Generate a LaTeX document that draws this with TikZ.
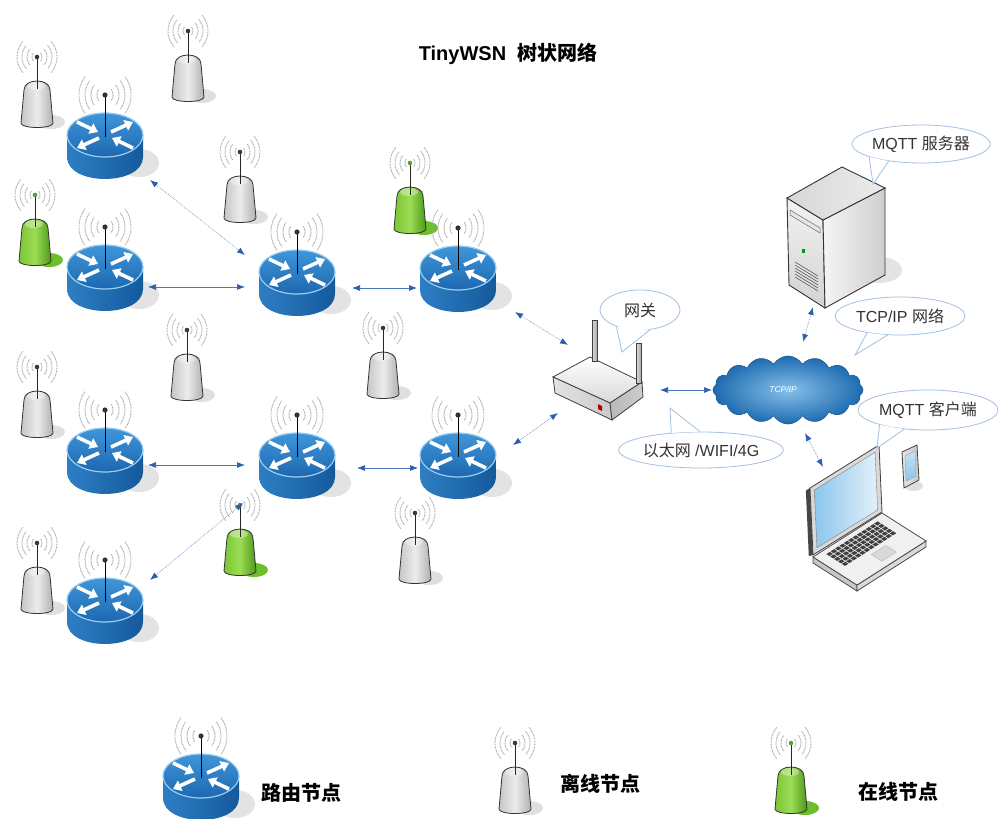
\documentclass[tikz,border=0pt]{standalone}
\usepackage{fontspec}
\setmainfont{Liberation Sans}
\newfontfamily\cjk{Noto Sans CJK SC}
\usetikzlibrary{arrows.meta,shapes.geometric,shapes.symbols}

\definecolor{rtop}{HTML}{4096DA}
\definecolor{rtopdark}{HTML}{1C68B0}
\definecolor{rside}{HTML}{2E7EC4}
\definecolor{rsidedark}{HTML}{145A9C}
\definecolor{rrim}{HTML}{9ACDF0}
\definecolor{linkblue}{HTML}{7099D0}
\definecolor{tipblue}{HTML}{2B5FAE}
\definecolor{bubble}{HTML}{A3C0E2}
\definecolor{grnlight}{HTML}{9CDC55}
\definecolor{grnmid}{HTML}{7CC634}
\definecolor{grndark}{HTML}{4C9816}
\definecolor{grnshadow}{HTML}{6DBE2A}
\definecolor{cloudin}{HTML}{86C0EA}
\definecolor{cloudout}{HTML}{1E6BB0}
\definecolor{screenblue}{HTML}{8CC6EC}

% body of a sensor node: shading left/middle/right, outline, shadow, antenna dot
\newcommand\nodebody[6]{%
  \fill[#5] (14,65) ellipse[x radius=14, y radius=7];
  \shade[left color=#1, right color=#3, middle color=#2, draw=#4, line width=0.8pt]
    (-16,66) -- (-13,33) .. controls (-13,21) and (13,21) .. (13,33)
    -- (16,66) .. controls (16,72) and (-16,72) .. cycle;
  \fill[white, opacity=0.35] (-1,29) ellipse[x radius=9, y radius=4];
  \draw[black!85, line width=0.6pt] (0,0) -- (0,32);
  \fill[#6] (0,0) circle[radius=2.3];
  \foreach \rr in {5,10,15,20} {
    \draw[wave] plot[domain=135:225, samples=9, smooth] ({\rr*cos(\x)}, {1.1*\rr*sin(\x)});
    \draw[wave] plot[domain=-45:45, samples=9, smooth] ({\rr*cos(\x)}, {1.1*\rr*sin(\x)});
  }%
}

\tikzset{
  wave/.style={draw=gray!65, line width=0.9pt, dash pattern=on 0.9pt off 0.6pt},
  rarrow/.style={white, line width=3.6pt, -{Triangle[length=8pt,width=11pt]}},
  router/.pic={
    \fill[gray!22] (34,28) ellipse[x radius=20, y radius=14];
    \shade[left color=rside, right color=rsidedark]
      (-38,0) -- (-38,22) .. controls (-38,51.3) and (38,51.3) .. (38,22) -- (38,0) -- cycle;
    \shade[top color=rtop, bottom color=rtopdark, draw=rrim, line width=1.2pt]
      (0,0) ellipse[x radius=38, y radius=22];
    \draw[rarrow] (-28,-13) -- (-7,-3);
    \draw[rarrow] (28,13) -- (7,3);
    \draw[rarrow] (6,-3) -- (28,-13);
    \draw[rarrow] (-6,3) -- (-28,13);
    \draw[black, line width=0.8pt] (0,2) -- (0,-40);
    \fill[gray!40!black] (0,-40) circle[radius=2.6];
    \foreach \rr in {8,14,20,26} {
      \draw[wave] plot[domain=140:220, samples=9, smooth] ({\rr*cos(\x)}, {-40+1.1*\rr*sin(\x)});
      \draw[wave] plot[domain=-40:40, samples=9, smooth] ({\rr*cos(\x)}, {-40+1.1*\rr*sin(\x)});
    }
  },
  graysensor/.pic={\nodebody{gray!45}{gray!15}{gray!62}{black!80}{gray!25}{gray!45!black}},
  greensensor/.pic={\nodebody{grnmid}{grnlight}{grndark}{black!80}{grnshadow}{grnmid!80!black}},
  link/.style={draw=linkblue, line width=0.7pt, densely dotted,
    {Latex[length=8pt,width=6pt,color=tipblue]}-{Latex[length=8pt,width=6pt,color=tipblue]}},
  hlink/.style={link, solid, draw=tipblue!85},
  bub/.style={ellipse, draw=bubble, line width=0.8pt, fill=white, inner sep=0pt,
    text=black!80, font=\fontsize{16}{18}\selectfont},
  bubline/.style={draw=bubble, line width=0.8pt},
  legendtext/.style={font=\fontsize{20}{24}\selectfont\bfseries\cjk, text=black},
}

\begin{document}
\begin{tikzpicture}[x=1pt, y=-1pt]
\clip (0,0) rectangle (1001,819);
\fill[white] (0,0) rectangle (1001,819);

% title
\node[font=\fontsize{20}{24}\selectfont\bfseries] (title) at (508,54)
  {TinyWSN\hspace{0.55em}{\cjk 树状网络}};

% sensor nodes (antenna tip positions)
\coordinate (S1) at (37,57);
\coordinate (S2) at (188,31);
\coordinate (S3) at (240,152);
\coordinate (S4) at (187,330);
\coordinate (S5) at (383,328);
\coordinate (S6) at (37,367);
\coordinate (S7) at (37,543);
\coordinate (S8) at (415,513);
\coordinate (G1) at (35,195);
\coordinate (G2) at (410,163);
\coordinate (G3) at (240,505);
\foreach \s in {S1,S2,S3,S4,S5,S6,S7,S8} \pic at (\s) {graysensor};
\foreach \s in {G1,G2,G3} \pic at (\s) {greensensor};

% routing nodes (centre of the top face)
\coordinate (R1) at (105,135);
\coordinate (R2) at (105,267);
\coordinate (R3) at (105,450);
\coordinate (R4) at (105,600);
\coordinate (R5) at (297,272);
\coordinate (R6) at (297,455);
\coordinate (R7) at (458,268);
\coordinate (R8) at (458,455);
\foreach \r in {R1,R2,R3,R4,R5,R6,R7,R8} \pic at (\r) {router};

% gateway
\coordinate (gw) at (598,390);
\shade[top color=white, bottom color=gray!30, draw=black!75, line width=0.8pt]
  (553,377) -- (590,357) -- (642,382) -- (610,403) -- cycle;
\shade[left color=gray!22, right color=gray!42, draw=black!75, line width=0.8pt]
  (553,377) -- (610,403) -- (612,420) -- (555,393) -- cycle;
\shade[left color=gray!55, right color=gray!40, draw=black!75, line width=0.8pt]
  (610,403) -- (642,382) -- (643,397) -- (612,420) -- cycle;
\fill[red!70!black] (598,404) -- (602,406) -- (602,411) -- (598,409) -- cycle;
\shade[left color=gray!30, right color=gray!65, draw=black!75, line width=0.7pt]
  (592,320) rectangle (597,361);
\shade[left color=gray!30, right color=gray!65, draw=black!75, line width=0.7pt]
  (636,343) rectangle (641,383);

% cloud
\node[cloud, cloud puffs=16, cloud puff arc=120, aspect=2.3,
  minimum width=150pt, minimum height=68pt, inner color=cloudin, outer color=cloudout,
  draw=cloudout!80!black, line width=0.6pt] (cloud) at (788,390) {};
\node[font=\fontsize{8.5}{9}\selectfont\itshape, text=white] (cloudtxt) at (783,389) {TCP/IP};

% server
\coordinate (srv) at (836,237);
\fill[gray!22] (880,270) ellipse[x radius=22, y radius=13];
\shade[top color=gray!10, bottom color=gray!35, draw=black!80, line width=0.9pt]
  (787,198) -- (823,220) -- (825,308) -- (789,285) -- cycle;
\shade[left color=gray!8, right color=gray!38, draw=black!80, line width=0.9pt]
  (823,220) -- (885,188) -- (885,275) -- (825,308) -- cycle;
\shade[left color=gray!32, right color=gray!15, draw=black!80, line width=0.9pt]
  (787,198) -- (842,167) -- (885,188) -- (823,220) -- cycle;
\draw[black!60, fill=gray!20, line width=0.5pt] (790,210) -- (820,228) -- (820,233) -- (790,215) -- cycle;
\fill[green!60!black] (802,249) rectangle (805,253);
\foreach \k in {0,...,5}
  \draw[gray!60!black, line width=0.5pt] (795,{262+3*\k}) -- (818,{276+3*\k});

% laptop
\coordinate (lap) at (868,515);
\fill[gray!45, draw=black!70, line width=0.8pt] (813,557) -- (857,585) -- (857,591) -- (813,563) -- cycle;
\fill[gray!30, draw=black!70, line width=0.8pt] (857,585) -- (926,541) -- (926,547) -- (857,591) -- cycle;
\begin{scope}[shift={(813,557)}, x={(69pt,44pt)}, y={(44pt,-28pt)}]
  \fill[gray!12, draw=black!70, line width=0.8pt] (0,0) -- (1,0) -- (1,1) -- (0,1) -- cycle;
  \foreach \i in {0,...,11}
    \foreach \j in {0,...,4}
      \fill[gray!50!black] ({0.13+\i*0.063},{0.1+\j*0.088}) -- ++(0.05,0) -- ++(0,0.07) -- ++(-0.05,0) -- cycle;
  \fill[gray!30, draw=gray!55] (0.45,0.62) -- (0.66,0.62) -- (0.66,0.86) -- (0.45,0.86) -- cycle;
\end{scope}
\begin{scope}[shift={(813,555)}, x={(69pt,43pt)}, y={(-3pt,67pt)}]
  \fill[gray!55!black] (0,0) -- (-0.06,0.02) -- (-0.06,1.0) -- (0,1) -- cycle;
  \fill[gray!30, draw=black!75, line width=0.8pt] (0,0) -- (1,0) -- (1,1) -- (0,1) -- cycle;
  \shade[left color=screenblue, right color=screenblue!25, draw=black!50, line width=0.4pt]
    (0.06,0.07) -- (0.94,0.07) -- (0.94,0.93) -- (0.06,0.93) -- cycle;
\end{scope}

% handheld
\fill[gray!25] (914,486) ellipse[x radius=9, y radius=5];
\shade[left color=gray!20, right color=gray!45, draw=black!75, line width=0.8pt]
  (902,452) -- (917,445) -- (919,480) -- (904,488) -- cycle;
\shade[top color=screenblue!50, bottom color=screenblue, draw=black!40, line width=0.3pt]
  (905,456) -- (915,451) -- (916,476) -- (906,481) -- cycle;

% links
\draw[link] ([shift={(45,45)}]R1) -- ([shift={(-52,-17)}]R5);
\draw[hlink] ([shift={(43,20)}]R2) -- ([shift={(-52,15)}]R5);
\draw[hlink] ([shift={(55,16)}]R5) -- ([shift={(-41,20)}]R7);
\draw[link] ([shift={(57,44)}]R7) -- ([shift={(-30,-45)}]gw);
\draw[hlink] ([shift={(43,15)}]R3) -- ([shift={(-52,10)}]R6);
\draw[hlink] ([shift={(60,13)}]R6) -- ([shift={(-40,13)}]R8);
\draw[link] ([shift={(55,-10)}]R8) -- ([shift={(-40,23)}]gw);
\draw[link] ([shift={(45,-20)}]R4) -- ([shift={(-54,48)}]R6);
\draw[hlink] ([shift={(62,0)}]gw) -- ([shift={(-76,0)}]cloud.center);
\draw[link] ([shift={(15,-48)}]cloud.center) -- ([shift={(-23,70)}]srv);
\draw[link] ([shift={(17,43)}]cloud.center) -- ([shift={(-45,-48)}]lap);

% speech bubbles
\node[bub, minimum width=136pt, minimum height=38pt] (bSrv) at (921,144) {MQTT {\cjk 服务器}};
\coordinate (tSrv) at (873,184);
\fill[white] (bSrv.194) -- (tSrv) -- (bSrv.208) -- cycle;
\draw[bubline] (bSrv.194) -- (tSrv) -- (bSrv.208);

\node[bub, minimum width=130pt, minimum height=38pt] (bNet) at (900,316) {TCP/IP {\cjk 网络}};
\coordinate (tNet) at (855,355);
\fill[white] (bNet.207) -- (tNet) -- (bNet.237) -- cycle;
\draw[bubline] (bNet.207) -- (tNet) -- (bNet.237);

\node[bub, minimum width=140pt, minimum height=40pt] (bCli) at (928,410) {MQTT {\cjk 客户端}};
\coordinate (tCli) at (877,448);
\fill[white] (bCli.197) -- (tCli) -- (bCli.219) -- cycle;
\draw[bubline] (bCli.197) -- (tCli) -- (bCli.219);

\node[bub, minimum width=80pt, minimum height=40pt] (bGw) at (640,310) {{\cjk 网关}};
\coordinate (tGw) at (622,352);
\fill[white] (bGw.215) -- (tGw) -- (bGw.297) -- cycle;
\draw[bubline] (bGw.215) -- (tGw) -- (bGw.297);

\node[bub, minimum width=162pt, minimum height=36pt] (bLink) at (701,450) {{\cjk 以太网} /WIFI/4G};
\coordinate (tLink) at (670,408);
\fill[white] (bLink.150) -- (tLink) -- (bLink.93) -- cycle;
\draw[bubline] (bLink.150) -- (tLink) -- (bLink.93);

% legend
\coordinate (LR) at (201,776);
\pic at (LR) {router};
\node[legendtext] (lR) at (301,793) {路由节点};
\coordinate (LS) at (515,743);
\pic at (LS) {graysensor};
\node[legendtext] (lS) at (600,784) {离线节点};
\coordinate (LG) at (791,743);
\pic at (LG) {greensensor};
\node[legendtext] (lG) at (898,792) {在线节点};
\end{tikzpicture}
\end{document}
